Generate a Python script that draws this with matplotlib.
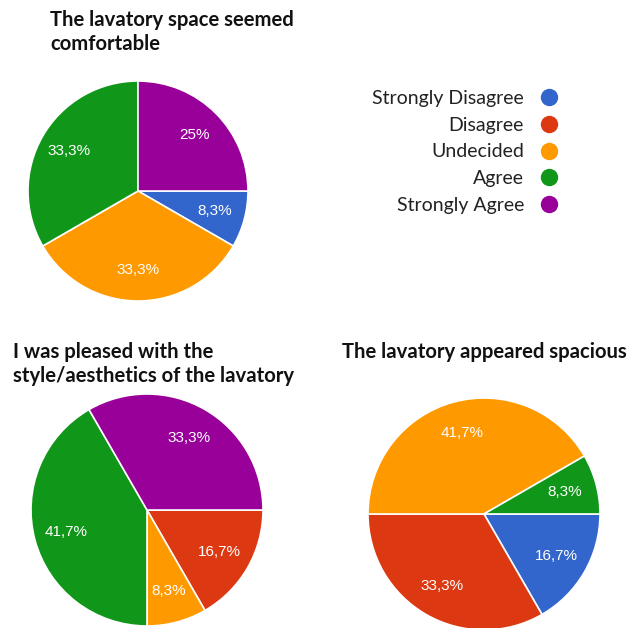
import matplotlib
matplotlib.use('agg')
import matplotlib.pyplot as plt
from matplotlib.lines import Line2D

# answer options and Google-chart colours
categories = ['Strongly Disagree', 'Disagree', 'Undecided', 'Agree', 'Strongly Agree']
colors = ['#3366cc', '#dc3912', '#ff9900', '#109618', '#990099']

# response counts (12 respondents per question)
comfortable = [1, 0, 4, 4, 3]
aesthetics = [0, 2, 1, 5, 4]
spacious = [2, 4, 5, 1, 0]

titles = ['The lavatory space seemed\ncomfortable',
          'I was pleased with the\nstyle/aesthetics of the lavatory',
          'The lavatory appeared spacious']

W, H = 630, 628
fig = plt.figure(figsize=(W / 100, H / 100), dpi=100)


def fmt_pct(p):
    s = f'{p:.1f}'
    if s.endswith('.0'):
        s = s[:-2]
    return s.replace('.', ',') + '%'


def draw_pie(values, cx, cy, r):
    # axes placed in pixel terms so the circle lands where it should
    ax = fig.add_axes([(cx - r) / W, (H - cy - r) / H, 2 * r / W, 2 * r / H])
    vals = [v for v in values if v > 0]
    cols = [c for v, c in zip(values, colors) if v > 0]
    wedges, _, autotexts = ax.pie(vals, colors=cols, startangle=0, counterclock=False,
                                  autopct=fmt_pct, pctdistance=0.72,
                                  wedgeprops=dict(edgecolor='white', linewidth=1.2))
    for t in autotexts:
        t.set_color('white')
        t.set_fontsize(11)
        t.set_family('Liberation Sans')
    ax.set_xlim(-1, 1)
    ax.set_ylim(-1, 1)
    return ax


draw_pie(comfortable, 138, 191, 110)
draw_pie(aesthetics, 147, 510, 116)
draw_pie(spacious, 484, 514, 116)

title_kw = dict(fontsize=14.6, fontweight='bold', family='Lato', va='top', ha='left',
                linespacing=1.28, color='#111111')
fig.text(50 / W, 1 - 10 / H, titles[0], **title_kw)
fig.text(13 / W, 1 - 342 / H, titles[1], **title_kw)
fig.text(342 / W, 1 - 342 / H, titles[2], **title_kw)

handles = [Line2D([], [], marker='o', linestyle='', markersize=11.5, color=c) for c in colors]
fig.legend(handles, categories, loc='upper right', bbox_to_anchor=(558 / W, 1 - 90 / H),
           frameon=False, markerfirst=False, prop={'family': 'Lato', 'size': 14},
           labelcolor='#222222', handlelength=0.9, handletextpad=0.85, labelspacing=0.5,
           borderpad=0, borderaxespad=0)

fig.savefig('out.png', dpi=100)
